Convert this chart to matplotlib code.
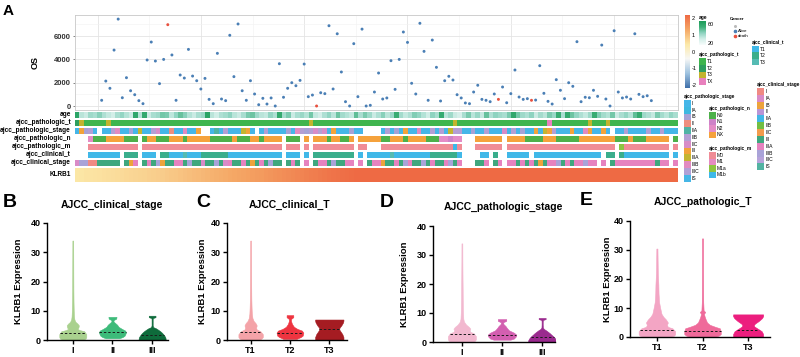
import numpy as np
import matplotlib
matplotlib.use("Agg")
import matplotlib.pyplot as plt
from matplotlib.colors import LinearSegmentedColormap, Normalize, to_rgba
from matplotlib.patches import Rectangle
from matplotlib.cm import ScalarMappable

plt.rcParams['font.family'] = ['Liberation Sans', 'DejaVu Sans']
plt.rcParams['axes.unicode_minus'] = False

# ---------------- DATA: panel A ----------------
os_days = [490, 2140, 1520, 4800, 7460, 710, 2430, 1310, 970, 460,
           200, 3950, 5490, 3860, 1920, 4000, 6980, 4380, 490, 2660,
           2400, 4860, 2570, 2170, 1460, 2370, 570, 200, 4520, 600,
           460, 6070, 2520, 7040, 1310, 490, 2170, 1030, 110, 660,
           170, 690, 0, 3630, 750, 1520, 2000, 1740, 2200, 3600,
           800, 940, 0, 1140, 1060, 6890, 1460, 6200, 2920, 370,
           0, 5350, 800, 6600, 0, 60, 1200, 2830, 600, 690,
           3890, 1430, 4000, 6350, 5460, 1950, 1030, 7100, 4690, 490,
           5660, 3320, 430, 2170, 2550, 2230, 970, 690, 260, 200,
           1200, 1780, 570, 490, 370, 1030, 570, 1630, 280, 1060,
           3090, 770, 570, 630, 490, 510, 3460, 1090, 400, 170,
           2260, 1350, 630, 2000, 1690, 5520, 370, 750, 710, 1350,
           830, 5230, 600, 0, 6460, 1200, 690, 770, 600, 6200,
           1000, 800, 880, 460]
death_samples = [17, 53, 97, 105]

age = [60, 33, 30, 38, 36, 42, 35, 31, 28, 36, 40, 34, 30, 58, 34, 57, 30, 36, 38, 45,
       44, 32, 40, 47, 42, 34, 30, 36, 39, 60, 33, 29, 35, 37, 41, 33, 30, 36, 44, 46,
       38, 33, 31, 40, 35, 57, 37, 44, 30, 36, 39, 34, 45, 31, 28, 35, 40, 33, 46, 37,
       34, 31, 48, 36, 44, 38, 30, 35, 42, 33, 39, 55, 37, 31, 35, 43, 40, 34, 29, 41,
       36, 56, 33, 38, 30, 27, 36, 44, 33, 39, 31, 47, 35, 41, 38, 36, 44, 58, 45, 38,
       35, 41, 30, 37, 33, 44, 39, 55, 36, 57, 46, 40, 35, 31, 38, 55, 43, 37, 34, 45,
       30, 36, 40, 34, 48, 56, 38, 35, 31, 44, 37, 33, 40, 36]

pathologic_t = ("T2 T3 T1 T1 T1 T1 T1 T3 T1 T1 " + "T1 " * 40 +
                "T1 T1 T3 T1 T1 T1 T1 T1 T1 T1 " + "T1 " * 20 +
                "T1 T1 T1 T1 T3 T1 T1 T1 T1 T1 " + "T1 " * 10 +
                "T1 T1 T1 T1 T1 TX T1 T1 T1 T1 "
                "T1 T1 T1 T1 T3 T1 T1 T1 T3 T1 " + "T1 " * 14).split()

pathologic_stage = (
    "I III IB IIB I NA I I IIB IIIB "
    "I I IB I IIIA I I IIB IIC I "
    "I II I I IIIB I I III NA NA "
    "I IIA I IIB I I I IIIA III I "
    "NA I IIB I I I I IB I IIIB "
    "IIB IB IIB IIC IIB IIC I III I I "
    "I IB I I NA NA NA NA I IIB "
    "I IB I III I I IIIB I I IIB "
    "I IIB I IIIA IIB IIB I I IB I "
    "I IIB I I I IIC I IIB I IB "
    "I I III I IIIA III IIB I I I "
    "III I I IIIB III I I III I NA "
    "I I IIB I I I I IIIC I I "
    "IIB I I I").split()

pathologic_n = (
    "NA NA NA N2 N0 N0 N0 NX NX NX "
    "NX N0 N0 N0 NA N0 NX NX N0 N0 "
    "N0 NX NX NX N0 NX NX NX NX NX "
    "N0 N0 N0 N0 N0 NX N0 N0 N0 NX "
    "NX N0 NX NX NX NX NA N0 N0 N0 "
    "NA NX NA NX NX NX N0 NX NX N0 "
    "N0 NX NA NX NX NX NX NX N0 N0 "
    "NX NX NX N0 NX NX NX NX N0 N0 "
    "N0 N2 N2 N1 N2 N2 NA NA NA NX "
    "NX NX NX NX NX NA NX NX NX NX "
    "N0 N0 N0 N0 NX NX NX N0 N0 N0 "
    "N0 N0 NX NX NX NX NX NX NX NX "
    "N0 N0 N0 NX N0 N0 N0 NX NX NX "
    "NX NX NA N0").split()

pathologic_m = (
    "NA NA NA M0 M0 M0 M0 M0 M0 M0 "
    "M0 M0 M0 M0 NA M0 M0 M0 M0 M0 " + "M0 " * 20 +
    "M0 M0 M0 M0 M0 M0 NA M0 M0 M0 "
    "NA M0 NA M0 M0 M0 M0 M0 M0 M0 "
    "M0 M0 NA M0 M0 NA NA NA M0 M0 " + "M0 " * 10 +
    "M0 M0 M0 M0 M1b M0 NA NA NA M0 "
    "M0 M0 M0 M0 M0 NA M0 M0 M0 M0 " + "M0 " * 20 +
    "NA M1a M0 M0 M0 M0 M0 M0 M0 M0 "
    "M0 M0 NA M0").split()

clinical_t = (
    "NA NA NA T1 T1 T1 T1 T1 T1 T1 "
    "NA T2 T2 T2 NA T1 T1 T1 NA T2 "
    "T2 T1 T1 T1 T3 T1 T1 T1 T2 T2 "
    "T2 T2 T2 T2 T1 T1 T1 T1 T1 T1 "
    "T1 T1 T1 T1 T1 T1 NA T1 T1 T1 "
    "NA T1 NA T2 T2 T2 T2 T2 T2 T2 "
    "T2 T2 NA T1 NA T1 T1 T1 T1 T1 "
    "T3 T1 T1 T1 T1 T1 T1 T1 T1 T2 "
    "T2 T2 T2 T2 T2 T1 NA NA NA NA "
    "T1 T1 NA T2 NA NA T1 T1 T1 T1 "
    "T1 NA T1 T1 T1 T1 T1 T1 T1 T1 "
    "T1 T1 T1 T1 T1 T1 T1 NA T2 T2 "
    "NA T2 T1 T1 T1 T1 T1 T1 T1 T1 "
    "T1 T1 NA T1").split()

clinical_stage = (
    "IA IIIB IIIB I I III III III III III "
    "NA III IB IIIA NA III IIIA III IIIB IB "
    "III III IIIA IIIA III IIIB III III IA III "
    "III IIIB III IA IIIA III III IIIA III IB "
    "III IIIA III IIIB III III NA III IIIA III "
    "NA IIIA NA III IIIA IIIA III IIIB III III "
    "IIIA IIIA NA IIIA NA III IIIA IIIA IB III "
    "III IIIA III IIIB IIIA III III IIIB III IIIA "
    "III III IIIA IIIB III IIIA NA NA NA III "
    "III IIIA NA III IIIA NA IIIA IIIA III IIIA "
    "III IIIA III IB III IIIA IIIA IIIB III IIIA "
    "III IIIA IIIA IIIB IIIA IIIA NA IIIA NA III "
    "IIIA IIIA IIIA IIIA IIIA IIIA IIIA IIIA IIIA III "
    "IIIA IIIA NA IIIA").split()

klrb1_z = [0.45, 0.47, 0.49, 0.50, 0.52, 0.53, 0.55, 0.57, 0.58, 0.60,
           0.62, 0.64, 0.66, 0.68, 0.70, 0.72, 0.74, 0.76, 0.78, 0.80,
           0.83, 0.86, 0.89, 0.92, 0.95, 0.98, 1.01, 1.04, 1.07, 1.10,
           1.13, 1.16, 1.19, 1.22, 1.25, 1.28, 1.31, 1.34, 1.37, 1.40,
           1.43, 1.46, 1.50, 1.53, 1.57, 1.60, 1.64, 1.67, 1.71, 1.74,
           1.78, 1.81, 1.85, 1.88, 1.91, 1.94, 1.97, 2.00, 2.02, 2.05,
           2.08, 2.11, 2.14, 2.17, 2.20, 2.24, 2.28, 2.32, 2.36, 2.40,
           2.44, 2.48, 2.52, 2.57, 2.62, 2.67, 2.72, 2.77, 2.82, 2.88,
           2.94, 3.00, 3.06, 3.12, 3.18, 3.25, 3.32, 3.39, 3.46, 3.53,
           3.60, 3.68, 3.76, 3.84, 3.92, 4.00, 4.08, 4.17, 4.26, 4.35,
           4.44, 4.53, 4.62, 4.72, 4.82, 4.92, 5.02, 5.12, 5.23, 5.34,
           5.45, 5.56, 5.67, 5.79, 5.91, 6.03, 6.15, 6.28, 6.41, 6.54,
           6.67, 6.80, 6.94, 7.08, 7.22, 7.36, 7.51, 7.66, 7.81, 7.96,
           8.11, 8.27, 8.43, 8.60]

# legend categories / colours
pt_levels = ["T1", "T2", "T3", "TX"]
ps_levels = ["I", "IA", "IB", "II", "IIA", "IIB", "IIC", "III", "IIIA", "IIIB", "IIIC", "IS"]
pn_levels = ["N0", "N1", "N2", "NX"]
pm_levels = ["M0", "M1", "M1a", "M1b"]
ct_levels = ["T1", "T2", "T3"]
cs_levels = ["I", "IA", "IB", "II", "IIA", "IIB", "IIC", "III", "IIIA", "IIIB", "IIIC", "IS"]

pt_colors = dict(zip(pt_levels, ["#3FB54E", "#2F9F5E", "#C3B42E", "#E880BD"]))
ps_colors = dict(zip(ps_levels, ["#45B6E8", "#3EB8E0", "#A6A2D6", "#EE8E7E", "#4FB3A5", "#B39FD4",
                                 "#D78CC8", "#F2A33A", "#C4B531", "#E28BC0", "#B1A0D6", "#46B6E6"]))
pn_colors = dict(zip(pn_levels, ["#4DB14A", "#CE82C8", "#E48CC6", "#F5A23C"]))
pm_colors = dict(zip(pm_levels, ["#F08C96", "#E58BC2", "#8DC541", "#3DB8E8"]))
ct_colors = dict(zip(ct_levels, ["#40B8E8", "#3AAE8C", "#55BBB3"]))
cs_colors = dict(zip(cs_levels, ["#F08A83", "#D98BC7", "#EDA33C", "#B995D6", "#42B7E6", "#72BE44",
                                 "#F39B4C", "#3FA77E", "#E683BF", "#A9A3D8", "#B7A3DA", "#53B3A2"]))

# ---------------- DATA: panels B-E (violin profiles: value grid, relative density) ----------------
B_labels = ["I", "II", "III"]
B_coords = [[0, 0.5, 1, 2, 3, 3.4, 3.8, 4.3, 5, 5.6, 6.2, 7, 8, 10, 13, 17, 22, 28, 34],
            [0.6, 1, 1.5, 2.5, 3.2, 3.8, 4.5, 5.2, 5.8, 6.3, 6.8, 7.3, 7.9],
            [0, 0.5, 1, 1.5, 2, 2.5, 3, 3.5, 4, 4.4, 5, 6, 7, 7.5, 7.8, 8.3]]
B_density = [[0.75, 0.95, 1.0, 1.0, 0.85, 0.5, 0.35, 0.42, 0.45, 0.35, 0.2, 0.12, 0.09, 0.07, 0.055, 0.045, 0.04, 0.035, 0.03],
             [0.5, 0.75, 0.9, 1.0, 0.95, 0.7, 0.45, 0.35, 0.2, 0.08, 0.08, 0.28, 0.3],
             [1.0, 1.0, 0.97, 0.9, 0.82, 0.72, 0.6, 0.45, 0.28, 0.08, 0.04, 0.04, 0.04, 0.05, 0.25, 0.25]]
B_medians = [2.5, 2.8, 1.8]

C_labels = ["T1", "T2", "T3"]
C_coords = [[0, 0.5, 1, 2, 3, 3.6, 4.2, 5, 5.8, 6.5, 7.5, 9, 11, 14, 18, 24, 30, 34],
            [0.4, 1, 1.5, 2.5, 3.2, 3.8, 4.5, 5.5, 6.5, 7.2, 7.8, 8.5],
            [0, 0.5, 1, 2, 3, 3.6, 4.2, 5, 6, 6.6, 7]]
C_density = [[0.7, 0.9, 1.0, 1.0, 0.8, 0.5, 0.45, 0.5, 0.4, 0.25, 0.15, 0.1, 0.08, 0.06, 0.05, 0.04, 0.035, 0.03],
             [0.5, 0.8, 0.95, 1.0, 0.9, 0.55, 0.3, 0.15, 0.08, 0.08, 0.25, 0.25],
             [1.0, 1.0, 1.0, 0.92, 0.78, 0.7, 0.72, 0.85, 0.97, 1.0, 1.0]]
C_medians = [2.7, 2.3, 3.6]

D_labels = ["I", "II", "III"]
D_coords = [[0, 0.5, 1, 2, 3, 3.5, 4, 4.6, 5.2, 6, 7, 8, 10, 12, 15, 18, 22, 28, 34],
            [0.8, 1.2, 2, 2.6, 3.2, 4, 4.8, 5.5, 6.2, 6.8, 7.3, 7.9],
            [0, 0.5, 1, 1.5, 2, 2.5, 3, 3.5, 4, 4.5, 5, 6, 7, 7.6, 7.9, 8.3]]
D_density = [[0.8, 0.95, 1.0, 1.0, 0.85, 0.6, 0.55, 0.6, 0.5, 0.3, 0.15, 0.1, 0.08, 0.07, 0.06, 0.055, 0.045, 0.035, 0.03],
             [0.6, 0.85, 1.0, 1.0, 0.85, 0.5, 0.35, 0.25, 0.1, 0.08, 0.3, 0.3],
             [1.0, 1.0, 0.95, 0.88, 0.78, 0.66, 0.55, 0.42, 0.28, 0.12, 0.05, 0.04, 0.04, 0.05, 0.25, 0.25]]
D_medians = [2.8, 2.5, 1.8]

E_labels = ["T1", "T2", "T3"]
E_coords = [[0, 0.5, 1, 2, 3, 3.5, 4.2, 5, 6, 7, 8, 10, 12, 15, 18, 22, 26, 30.5],
            [0, 0.5, 1, 2, 3, 3.5, 4.2, 5, 6, 7, 8, 8.6, 9.2, 12, 16, 22, 28, 34],
            [0, 0.5, 1, 2, 3, 3.6, 4.1, 4.6, 5.5, 6.5, 7.2, 7.8]]
E_density = [[0.75, 0.95, 1.0, 1.0, 0.85, 0.6, 0.55, 0.6, 0.5, 0.35, 0.25, 0.18, 0.12, 0.09, 0.08, 0.05, 0.04, 0.03],
             [0.7, 0.9, 1.0, 1.0, 0.95, 0.7, 0.4, 0.25, 0.18, 0.12, 0.08, 0.15, 0.06, 0.04, 0.035, 0.03, 0.03, 0.03],
             [1.0, 1.0, 1.0, 0.9, 0.6, 0.42, 0.38, 0.45, 0.7, 0.92, 1.0, 1.0]]
E_medians = [2.5, 2.2, 2.5]

# ---------------- FIGURE ----------------
W, H = 800, 357
fig = plt.figure(figsize=(W / 100, H / 100), dpi=100)


def add_ax(l, t, r, b):
    return fig.add_axes([l / W, 1 - b / H, (r - l) / W, (b - t) / H])


expr_cmap = LinearSegmentedColormap.from_list(
    "expr", ["#3F6FA9", "#9FC3E0", "#F7F7F5", "#FCE9A8", "#F5A765", "#EE6A44"])
expr_norm = Normalize(-2.15, 2.15)
age_cmap = LinearSegmentedColormap.from_list("age", ["#F7FCFB", "#D2EEE8", "#8ED3C0", "#3DAF77", "#1B9A57"])
age_norm = Normalize(15.8, 66.3)

# ---- scatter (OS) ----
ax = add_ax(75, 15, 678, 110)
xs = np.arange(1, len(os_days) + 1)
cols = ["#E8503E" if i in death_samples else "#4A7FB5" for i in xs]
ax.scatter(xs, os_days, s=4.5, c=cols, marker="o", linewidths=0, zorder=3)
ax.set_xlim(-5.45, 140.45)
ax.set_ylim(-343, 7811)
ax.set_xticks([0, 25, 50, 75, 100, 125])
ax.set_xticks([12.5, 37.5, 62.5, 87.5, 112.5, 137.5], minor=True)
ax.set_yticks([0, 2000, 4000, 6000])
ax.set_yticks([1000, 3000, 5000, 7000], minor=True)
ax.grid(True, which="major", color="#E4E4E4", lw=0.6)
ax.grid(True, which="minor", color="#F2F2F2", lw=0.4)
ax.set_axisbelow(True)
ax.tick_params(axis="x", which="both", length=0, labelbottom=False)
ax.tick_params(axis="y", which="major", length=1.5, width=0.5, color="#555555", labelsize=5.5, pad=1.5)
ax.tick_params(axis="y", which="minor", length=0)
for lab in ax.get_yticklabels():
    lab.set_fontweight("bold")
    lab.set_color("#333333")
for sp in ax.spines.values():
    sp.set_color("#C8C8C8")
    sp.set_linewidth(0.6)
ax.set_ylabel("OS", fontsize=6.5, fontweight="bold")
ax.yaxis.set_label_coords(-0.058, 0.5)


# ---- annotation heatmap rows ----
def cat_rgba(vals, cdict):
    return np.array([[to_rgba(cdict[v]) if v != "NA" else (1, 1, 1, 1) for v in vals]])


rows = [
    ("age", 112, 118, age_cmap(age_norm(np.array([age])))),
    ("ajcc_pathologic_t", 120, 126, cat_rgba(pathologic_t, pt_colors)),
    ("ajcc_pathologic_stage", 128, 134, cat_rgba(pathologic_stage, ps_colors)),
    ("ajcc_pathologic_n", 136, 142, cat_rgba(pathologic_n, pn_colors)),
    ("ajcc_pathologic_m", 144, 150, cat_rgba(pathologic_m, pm_colors)),
    ("ajcc_clinical_t", 152, 158, cat_rgba(clinical_t, ct_colors)),
    ("ajcc_clinical_stage", 160, 166, cat_rgba(clinical_stage, cs_colors)),
    ("KLRB1", 168, 182, expr_cmap(expr_norm(np.array([klrb1_z])))),
]
for name, t, b, img in rows:
    hax = add_ax(75, t, 678, b)
    hax.imshow(img, aspect="auto", interpolation="nearest")
    hax.set_axis_off()
    fig.text(71 / W, 1 - ((t + b) / 2) / H, name, ha="right", va="center",
             fontsize=4.7, fontweight="bold")

# ---- legends ----
cax = add_ax(685, 15, 690, 88)
cb = fig.colorbar(ScalarMappable(expr_norm, expr_cmap), cax=cax, ticks=[-2, -1, 0, 1, 2])
cb.outline.set_visible(False)
cax.tick_params(labelsize=4, length=0, pad=1.5)

aax = add_ax(699, 21, 706, 45)
ab = fig.colorbar(ScalarMappable(age_norm, age_cmap), cax=aax, ticks=[20, 60])
ab.outline.set_visible(False)
aax.tick_params(labelsize=4, length=0, pad=1.0)

ov = fig.add_axes([0, 0, 1, 1])
ov.set_xlim(0, W)
ov.set_ylim(H, 0)
ov.set_axis_off()

ov.text(699, 20.5, "age", fontsize=3.5, fontweight="bold", va="bottom", ha="left")


def cat_legend(title, x, ytop, labels, cdict, bh, bw=6.5):
    ov.text(x, ytop - 0.8, title, fontsize=3.4, fontweight="bold", va="bottom", ha="left")
    for i, lab in enumerate(labels):
        ov.add_patch(Rectangle((x, ytop + i * bh), bw, bh, facecolor=cdict[lab], edgecolor="none"))
        ov.text(x + bw + 1.5, ytop + (i + 0.5) * bh, lab, fontsize=3.6, va="center", ha="left")


cat_legend("ajcc_pathologic_t", 699, 58, pt_levels, pt_colors, 6.8)
cat_legend("ajcc_clinical_t", 752, 46, ct_levels, ct_colors, 6.4)
cat_legend("ajcc_pathologic_stage", 684, 100, ps_levels, ps_colors, 6.8)
cat_legend("ajcc_pathologic_n", 709, 112, pn_levels, pn_colors, 6.5)
cat_legend("ajcc_pathologic_m", 709, 152, pm_levels, pm_colors, 6.5)
cat_legend("ajcc_clinical_stage", 757, 88, cs_levels, cs_colors, 6.85)

ov.text(730, 21.5, "Cancer", fontsize=3.2, fontweight="bold", va="bottom", ha="left")
ov.plot([735], [25.7], marker="o", ms=1.2, color="#BBBBBB", lw=0)
ov.plot([735], [30.7], marker="o", ms=1.6, color="#4A7FB5", lw=0)
ov.text(738, 30.7, "Alive", fontsize=3.2, va="center")
ov.plot([735], [35.7], marker="o", ms=1.6, color="#E8503E", lw=0)
ov.text(738, 35.7, "death", fontsize=3.2, va="center")

ov.text(3, 15, "A", fontsize=11, fontweight="bold", va="baseline")


# ---- violins ----
def violin_panel(box, labels, coords, dens, medians, colors, widths, title, title_xy, ylab_x):
    l, t, r, b = box
    vax = add_ax(l, t, r, b)
    stats = []
    for c, d, m in zip(coords, dens, medians):
        c = np.asarray(c, float)
        d = np.asarray(d, float)
        stats.append(dict(coords=c, vals=d, mean=m, median=m, min=c.min(), max=c.max()))
    pos = np.arange(len(labels))
    parts = vax.violin(stats, positions=pos, widths=widths, showmeans=False,
                       showextrema=False, showmedians=False)
    for body, col in zip(parts["bodies"], colors):
        body.set_facecolor(col)
        body.set_edgecolor(col)
        body.set_alpha(1)
        body.set_linewidth(0.4)
    for i, (c, d, m) in enumerate(zip(coords, dens, medians)):
        hw = np.interp(m, c, d) / max(d) * widths[i] / 2
        vax.plot([i - hw, i + hw], [m, m], color="#1A1A1A", lw=0.7, ls=(0, (2.5, 2)))
    vax.set_ylim(0, 40)
    vax.set_yticks([0, 10, 20, 30, 40])
    vax.set_xticks(pos)
    vax.set_xticklabels(labels)
    for sp in ["top", "right"]:
        vax.spines[sp].set_visible(False)
    for sp in ["left", "bottom"]:
        vax.spines[sp].set_linewidth(1.0)
    vax.tick_params(length=3, width=1.0, labelsize=6.5, pad=1.5)
    for lab in vax.get_xticklabels() + vax.get_yticklabels():
        lab.set_fontweight("bold")
    vax.set_ylabel("KLRB1 Expression", fontsize=6.8, fontweight="bold")
    vax.yaxis.set_label_coords((ylab_x - l) / (r - l), 0.5)
    fig.text(title_xy[0] / W, 1 - title_xy[1] / H, title, ha="center", va="center",
             fontsize=7.5, fontweight="bold")
    return vax


vb = violin_panel((47, 223, 168, 340), B_labels, B_coords, B_density, B_medians,
                  ["#A9D18E", "#3DBB7A", "#0E6B3B"], [0.68, 0.68, 0.68],
                  "AJCC_clinical_stage", (112, 205), 23)
vb.set_xlim(-0.65, 2.4)
vc = violin_panel((227, 223, 347, 340), C_labels, C_coords, C_density, C_medians,
                  ["#F4A3A8", "#EE3440", "#A51C22"], [0.62, 0.68, 0.72],
                  "AJCC_clinical_T", (290, 205), 207)
vc.set_xlim(-0.6, 2.45)
vd = violin_panel((433, 226, 555, 342), D_labels, D_coords, D_density, D_medians,
                  ["#F2B8CF", "#D35FB0", "#9A2A8E"], [0.7, 0.7, 0.7],
                  "AJCC_pathologic_stage", (503, 207), 409)
vd.set_xlim(-0.72, 2.32)
ve = violin_panel((630, 221, 770, 337), E_labels, E_coords, E_density, E_medians,
                  ["#F3A5C4", "#EF6A9A", "#EC1E7E"], [0.8, 0.8, 0.66],
                  "AJCC_pathologic_T", (703, 202), 612)
ve.set_xlim(-0.59, 2.48)

for letter, (px, py) in zip("BCDE", [(3, 207), (196, 207), (380, 207), (580, 205)]):
    fig.text(px / W, 1 - py / H, letter, fontsize=14, fontweight="bold", va="baseline")

fig.savefig("out.png", dpi=100)
